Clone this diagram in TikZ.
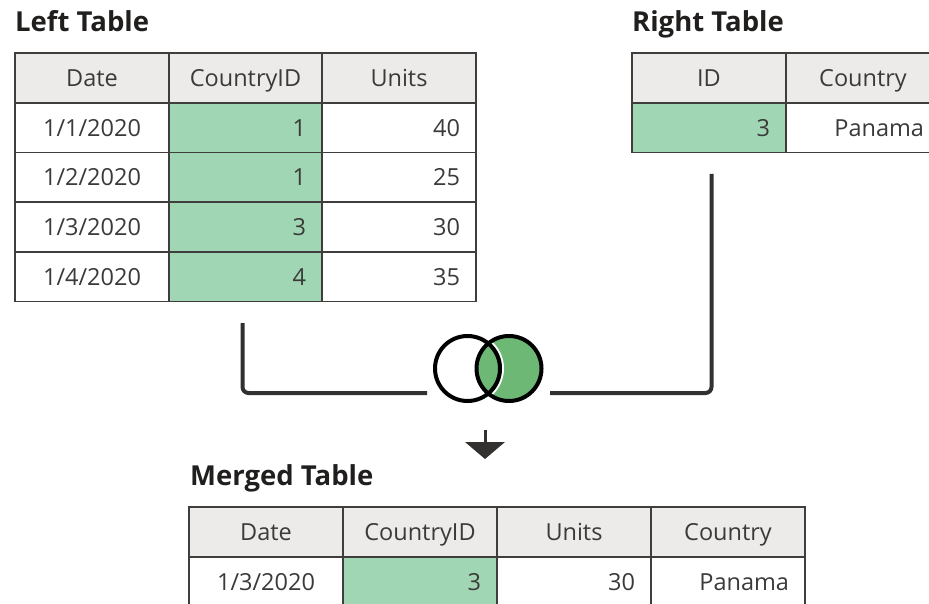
\documentclass[tikz,border=0pt]{standalone}
\usepackage{fontspec}
\setmainfont{Open Sans}
\definecolor{hdrfill}{HTML}{EDEBE9}
\definecolor{keyfill}{HTML}{A0D6B4}
\definecolor{venngreen}{HTML}{6CB874}
\definecolor{gridline}{HTML}{3F3E3D}
\definecolor{celltxt}{HTML}{3B3A39}
\definecolor{titletxt}{HTML}{201F1E}
\definecolor{connc}{HTML}{323130}
\newcommand{\mkcell}[6]{\node[cellbox,#5,minimum width=#4pt,text width=#4pt-32pt] (#1) at (#2,#3) {#6};}
\tikzset{
  cellbox/.style={draw=gridline, line width=1.8pt, minimum height=49.6pt, inner xsep=16pt, inner ysep=0pt,
    font=\fontsize{23.5}{28}\selectfont, text=celltxt, text height=17pt, text depth=0pt, fill=white},
  hd/.style={fill=hdrfill, align=center},
  ctr/.style={align=center},
  rgt/.style={align=right},
  key/.style={fill=keyfill, align=right},
  title/.style={font=\fontsize{27.5}{30}\selectfont\bfseries, text=titletxt, anchor=base west, inner sep=0pt},
  conn/.style={draw=connc, line width=4pt, rounded corners=6pt},
  vennring/.style={circle, draw=black, line width=4pt, minimum size=65pt, inner sep=0pt}
}
\begin{document}
\begin{tikzpicture}[x=1pt,y=-1pt]
\useasboundingbox (0,0) rectangle (929,604);
\clip (0,0) rectangle (929,604);
% titles
\node[title] (tl) at (15,32) {Left Table};
\node[title] (tr) at (632,32) {Right Table};
\node[title] (tm) at (190,485) {Merged Table};
% left table
\mkcell{L00}{92}{78}{154}{hd}{Date}
\mkcell{L01}{245.5}{78}{153}{hd}{CountryID}
\mkcell{L02}{399}{78}{154}{hd}{Units}
\mkcell{L10}{92}{127.8}{154}{ctr}{1/1/2020}
\mkcell{L11}{245.5}{127.8}{153}{key}{1}
\mkcell{L12}{399}{127.8}{154}{rgt}{40}
\mkcell{L20}{92}{177.4}{154}{ctr}{1/2/2020}
\mkcell{L21}{245.5}{177.4}{153}{key}{1}
\mkcell{L22}{399}{177.4}{154}{rgt}{25}
\mkcell{L30}{92}{227}{154}{ctr}{1/3/2020}
\mkcell{L31}{245.5}{227}{153}{key}{3}
\mkcell{L32}{399}{227}{154}{rgt}{30}
\mkcell{L40}{92}{276.6}{154}{ctr}{1/4/2020}
\mkcell{L41}{245.5}{276.6}{153}{key}{4}
\mkcell{L42}{399}{276.6}{154}{rgt}{35}
% right table
\mkcell{R00}{709}{78}{154}{hd}{ID}
\mkcell{R01}{863}{78}{154}{hd}{Country}
\mkcell{R10}{709}{127.8}{154}{key}{3}
\mkcell{R11}{863}{127.8}{154}{rgt}{Panama}
% merged table
\mkcell{M00}{266}{532}{154}{hd}{Date}
\mkcell{M01}{420}{532}{154}{hd}{CountryID}
\mkcell{M02}{574}{532}{154}{hd}{Units}
\mkcell{M03}{728}{532}{154}{hd}{Country}
\mkcell{M10}{266}{581.6}{154}{ctr}{1/3/2020}
\mkcell{M11}{420}{581.6}{154}{key}{3}
\mkcell{M12}{574}{581.6}{154}{rgt}{30}
\mkcell{M13}{728}{581.6}{154}{rgt}{Panama}
% venn
\fill[venngreen] (509,368.5) circle (32.5);
\begin{scope}
  \clip (509,368.5) circle (32.5);
  \draw[white, line width=2pt] (467.5,368.5) circle (35.5);
\end{scope}
\node[vennring] (vennL) at (467.5,368.5) {};
\node[vennring] (vennR) at (509,368.5) {};
% connectors
\coordinate (lstart) at (242.5,323);
\coordinate (ljoin) at (427,393);
\coordinate (rstart) at (711.5,174);
\coordinate (rjoin) at (550,393);
\draw[conn] (lstart) |- (ljoin);
\draw[conn] (rstart) |- (rjoin);
% down arrow
\coordinate (astem) at (485,430);
\coordinate (atip) at (485,459);
\draw[connc, line width=3pt] (astem) -- (485,443);
\fill[connc] (465,442) -- (505,442) -- (atip) -- cycle;
\end{tikzpicture}
\end{document}
